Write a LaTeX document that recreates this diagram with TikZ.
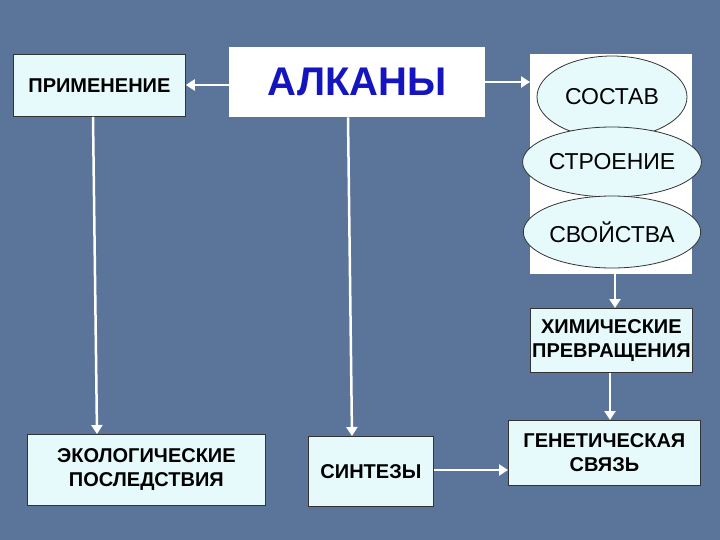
\documentclass[tikz,border=0pt]{standalone}
\usepackage{fontspec}
\setmainfont{Liberation Sans}
\usetikzlibrary{shapes.geometric,arrows.meta}
\definecolor{bg}{HTML}{5B7499}
\definecolor{boxc}{HTML}{E6FAFC}
\definecolor{ttl}{HTML}{1515C0}
\begin{document}
\begin{tikzpicture}[x=1pt,y=-1pt,
  bx/.style={draw=black!80,fill=boxc,line width=0.8pt,font=\fontsize{20}{24}\selectfont\bfseries,align=center,inner sep=0pt},
  el/.style={ellipse,draw=black!80,fill=boxc,line width=0.8pt,font=\fontsize{23}{25}\selectfont,inner sep=0pt},
  ar/.style={draw=white,line width=2.5pt,-{Triangle[length=9pt,width=11pt]}}]
\fill[bg] (0,0) rectangle (720,540);
\useasboundingbox (0,0) rectangle (720,540);
\node[bx,minimum width=172,minimum height=62,anchor=north west] (prim) at (13,54) {ПРИМЕНЕНИЕ};
\node[fill=white,minimum width=256,minimum height=70,anchor=north west,inner sep=0pt,text=ttl,font=\fontsize{40}{42}\selectfont\bfseries] (alk) at (229,47) {АЛКАНЫ};
\node[fill=white,minimum width=162,minimum height=220,anchor=north west,inner sep=0pt] (panel) at (530,54) {};
\node[el,minimum width=150,minimum height=82] (sost) at (612,97) {СОСТАВ};
\node[el,minimum width=150,minimum height=70] (str) at (612,162) {СТРОЕНИЕ};
\node[el,minimum width=150,minimum height=72] (sv) at (612,232) {СВОЙСТВА};
\node[bx,minimum width=162,minimum height=64,anchor=north west] (him) at (530,308) {ХИМИЧЕСКИЕ\\ПРЕВРАЩЕНИЯ};
\node[bx,minimum width=238,minimum height=71,anchor=north west] (eko) at (27,434) {ЭКОЛОГИЧЕСКИЕ\\ПОСЛЕДСТВИЯ};
\node[bx,minimum width=125,minimum height=70,anchor=north west] (sin) at (308,436) {СИНТЕЗЫ};
\node[bx,minimum width=192,minimum height=65,anchor=north west] (gen) at (508,420) {ГЕНЕТИЧЕСКАЯ\\СВЯЗЬ};
\draw[ar] (alk.west|-0,85) -- (prim.east|-0,85);
\draw[ar] (alk.east|-0,82) -- (panel.west|-0,82);
\draw[ar] (93,0|-prim.south) -- (97,0|-eko.north);
\draw[ar] (348,0|-alk.south) -- (352,0|-sin.north);
\draw[ar] (615,0|-panel.south) -- (615,0|-him.north);
\draw[ar] (610,0|-him.south) -- (610,0|-gen.north);
\draw[ar] (sin.east|-0,470) -- (gen.west|-0,470);
\end{tikzpicture}
\end{document}
